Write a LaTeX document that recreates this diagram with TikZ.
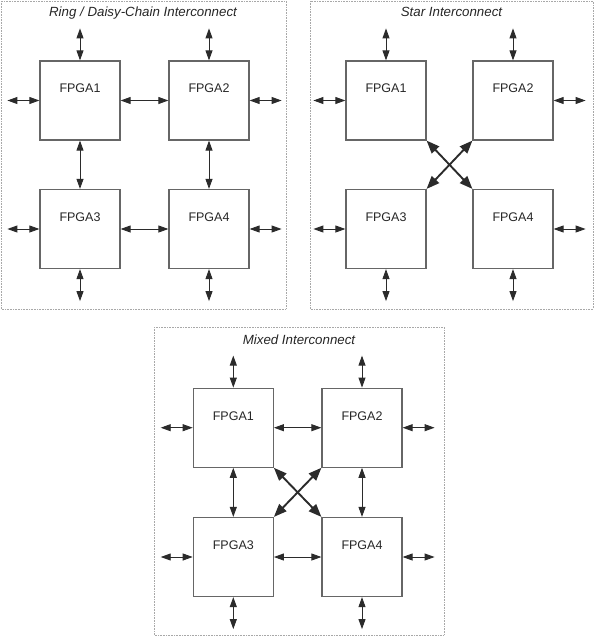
\documentclass[tikz,border=0pt]{standalone}
\usepackage{fontspec}
\setmainfont{Liberation Sans}
\usetikzlibrary{arrows.meta}

\definecolor{boxgray}{HTML}{666666}
\definecolor{arrowgray}{HTML}{2B2B2B}
\definecolor{bordergray}{HTML}{A8A8A8}

\tikzset{
	fpga/.style={draw=boxgray, line width=1.2pt, minimum width=80pt, minimum height=79pt, inner sep=0pt},
	fpgalabel/.style={anchor=base, yshift=-32.5pt, inner sep=0pt, font=\fontsize{12.5}{14}\selectfont, text=black!85},
	link/.style={{Triangle[length=10pt,width=7pt]}-{Triangle[length=10pt,width=7pt]}, draw=arrowgray, fill=arrowgray, line width=0.9pt},
	cross/.style={{Triangle[length=13pt,width=10pt]}-{Triangle[length=13pt,width=10pt]}, draw=arrowgray, fill=arrowgray, line width=1.9pt},
	panel/.style={draw=bordergray, densely dotted, line width=0.6pt},
	titulo/.style={anchor=base, inner sep=0pt, font=\fontsize{13.3}{15}\selectfont\itshape, text=black!85}
}

\begin{document}
\begin{tikzpicture}[x=1pt,y=1pt] % formas de interconexion entre FPGAs
		\useasboundingbox (0,0) rectangle (594,-637);
		% Marcos
		\draw[panel] (1,-1) rectangle (286,-309);
		\draw[panel] (310,-1) rectangle (593,-309);
		\draw[panel] (154,-327) rectangle (444,-635);
		\node[titulo] (tRing) at (143,-16.5) {Ring / Daisy-Chain Interconnect};
		\node[titulo] (tStar) at (451.5,-16.5) {Star Interconnect};
		\node[titulo] (tMixed) at (299,-344) {Mixed Interconnect};
		% Nivel Ring
		\node[fpga, label={[fpgalabel]north:FPGA1}] (R1) at (80,-100.5) {};
		\node[fpga, label={[fpgalabel]north:FPGA2}] (R2) at (209,-100.5) {};
		\node[fpga, label={[fpgalabel]north:FPGA3}] (R3) at (80,-229) {};
		\node[fpga, label={[fpgalabel]north:FPGA4}] (R4) at (209,-229) {};
		\draw[link] (R1.east) -- (R2.west);
		\draw[link] (R3.east) -- (R4.west);
		\draw[link] (R1.south) -- (R3.north);
		\draw[link] (R2.south) -- (R4.north);
		% Nivel Star
		\node[fpga, label={[fpgalabel]north:FPGA1}] (S1) at (386,-100.5) {};
		\node[fpga, label={[fpgalabel]north:FPGA2}] (S2) at (513,-100.5) {};
		\node[fpga, label={[fpgalabel]north:FPGA3}] (S3) at (386,-229) {};
		\node[fpga, label={[fpgalabel]north:FPGA4}] (S4) at (513,-229) {};
		\draw[cross] (S1.south east) -- (S4.north west);
		\draw[cross] (S2.south west) -- (S3.north east);
		% Nivel Mixed
		\node[fpga, label={[fpgalabel]north:FPGA1}] (M1) at (233.3,-427.7) {};
		\node[fpga, label={[fpgalabel]north:FPGA2}] (M2) at (362,-427.7) {};
		\node[fpga, label={[fpgalabel]north:FPGA3}] (M3) at (233.3,-557) {};
		\node[fpga, label={[fpgalabel]north:FPGA4}] (M4) at (362,-557) {};
		\draw[link] (M1.east) -- (M2.west);
		\draw[link] (M3.east) -- (M4.west);
		\draw[link] (M1.south) -- (M3.north);
		\draw[link] (M2.south) -- (M4.north);
		\draw[cross] (M1.south east) -- (M4.north west);
		\draw[cross] (M2.south west) -- (M3.north east);
		% Salidas externas
		\foreach \p in {R,S,M}{
			\foreach \b/\va/\dy/\ha/\dx in {1/north/32/west/-32, 2/north/32/east/32, 3/south/-32/west/-32, 4/south/-32/east/32}{
				\coordinate (\p\b-v) at ([yshift=\dy pt]\p\b.\va);
				\coordinate (\p\b-h) at ([xshift=\dx pt]\p\b.\ha);
				\draw[link] (\p\b.\va) -- (\p\b-v);
				\draw[link] (\p\b.\ha) -- (\p\b-h);
			}
		}
	\end{tikzpicture}
\end{document}
